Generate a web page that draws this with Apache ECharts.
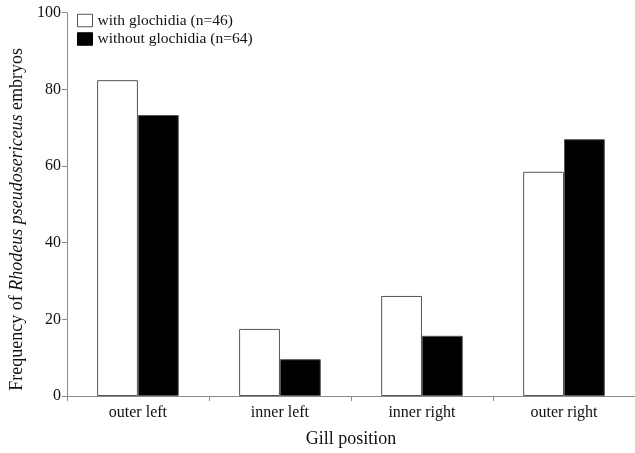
<!DOCTYPE html>
<html><head><meta charset="utf-8">
<script src="https://cdn.jsdelivr.net/npm/echarts@6/dist/echarts.min.js"></script>
<style>html,body{margin:0;padding:0;background:#fff}#c{width:635px;height:453px}</style>
</head><body><div id="c"></div>
<script>
var categories = ['outer left', 'inner left', 'inner right', 'outer right'];
var withGlochidia = [82.4, 17.5, 26.1, 58.5];
var withoutGlochidia = [73.3, 9.6, 15.7, 67.0];
var seriesNames = ['with glochidia (n=46)', 'without glochidia (n=64)'];
var yTicks = [0, 20, 40, 60, 80, 100];

var font = 'Liberation Serif';
var chart = echarts.init(document.getElementById('c'));
chart.setOption({
  animation: false,
  backgroundColor: '#fff',
  grid: {left: 64, right: 0, top: 12.7, bottom: 57},
  legend: {
    orient: 'vertical', left: 77, top: 12.5, padding: 0, itemGap: 2.5,
    itemWidth: 15, itemHeight: 12.5, icon: 'rect',
    textStyle: {fontFamily: font, fontSize: 15.5, color: '#111'},
    data: [
      {name: seriesNames[0], itemStyle: {color: '#fff', borderColor: '#555', borderWidth: 1}},
      {name: seriesNames[1], itemStyle: {color: '#000', borderColor: '#000', borderWidth: 1}}
    ]
  },
  xAxis: {
    type: 'category', data: categories,
    axisLine: {lineStyle: {color: '#8a8a8a', width: 1}},
    axisTick: {show: true, length: 5, lineStyle: {color: '#8a8a8a'}},
    axisLabel: {fontFamily: font, fontSize: 16, color: '#111', margin: 9},
    name: 'Gill position', nameLocation: 'middle', nameGap: 34,
    nameTextStyle: {fontFamily: font, fontSize: 18, color: '#111'}
  },
  yAxis: {
    type: 'value', min: yTicks[0], max: yTicks[yTicks.length - 1], interval: 20,
    splitLine: {show: false},
    axisLine: {show: true, lineStyle: {color: '#8a8a8a', width: 1}},
    axisTick: {show: true, length: 5, lineStyle: {color: '#8a8a8a'}},
    axisLabel: {fontFamily: font, fontSize: 16, color: '#111', margin: 6},
    name: 'Frequency of {i|Rhodeus pseudosericeus} embryos',
    nameLocation: 'middle', nameGap: 38,
    nameTextStyle: {fontFamily: font, fontSize: 18, color: '#111', padding: [0, 30, 0, 0],
      rich: {i: {fontFamily: font, fontSize: 18, fontStyle: 'italic', color: '#111'}}}
  },
  series: [
    {name: seriesNames[0], type: 'bar', data: withGlochidia, barGap: '0%', barCategoryGap: '42.5%',
     itemStyle: {color: '#fff', borderColor: '#555', borderWidth: 1}},
    {name: seriesNames[1], type: 'bar', data: withoutGlochidia,
     itemStyle: {color: '#000', borderColor: '#555', borderWidth: 1}}
  ]
});
</script></body></html>
